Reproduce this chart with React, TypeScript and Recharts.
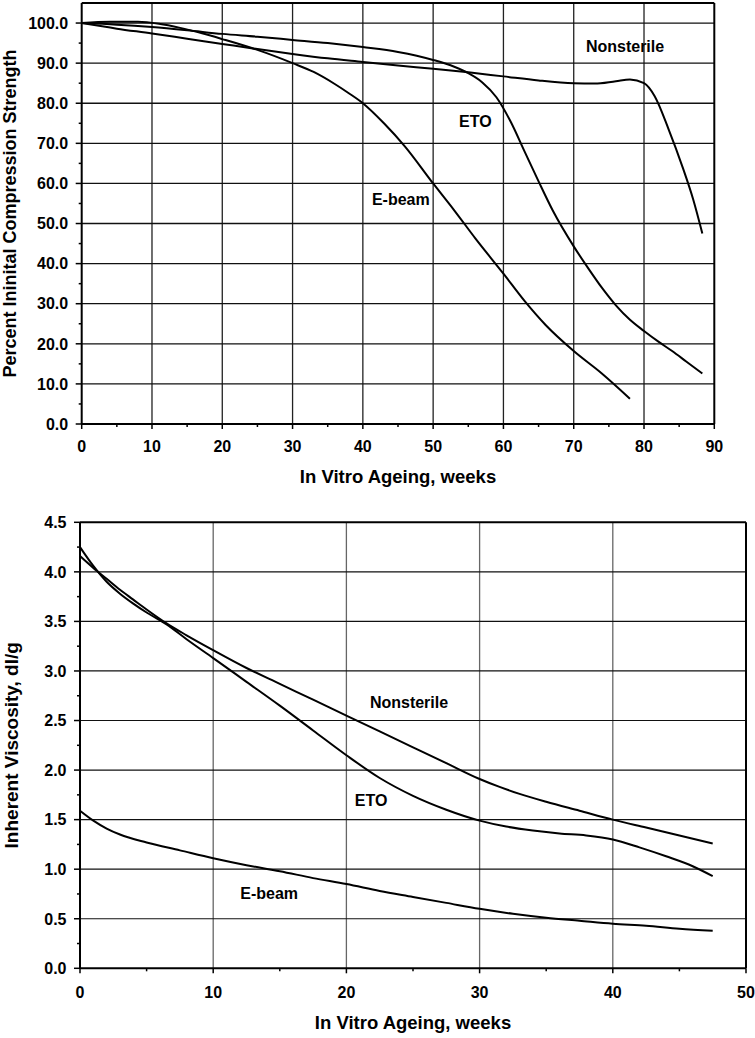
import { LineChart, Line, XAxis, YAxis, ReferenceLine, ReferenceDot, Label } from 'recharts';

const FONT = '"Liberation Sans", Arial, Helvetica, sans-serif';

// --- top panel: percent initial compression strength vs weeks ---
const strengthXTicks = [0, 5, 10, 15, 20, 25, 30, 35, 40, 45, 50, 55, 60, 65, 70, 75, 80, 85, 90];
const strengthYTicks = [0, 5, 10, 15, 20, 25, 30, 35, 40, 45, 50, 55, 60, 65, 70, 75, 80, 85, 90, 95, 100];
const strengthXGrid = [10, 20, 30, 40, 50, 60, 70, 80];
const strengthYGrid = [10, 20, 30, 40, 50, 60, 70, 80, 90, 100];

const nonsterileWeeks = [0, 5, 10, 15, 20, 25, 30, 35, 40, 45, 50, 55, 60, 65, 70, 73, 76, 78, 80, 81.5, 83.5, 85.5, 87, 88.3];
const nonsterileStrength = [100, 98.6, 97.4, 96.1, 94.8, 93.5, 92.3, 91.2, 90.3, 89.4, 88.6, 87.7, 86.7, 85.7, 85.0, 84.9, 85.5, 85.9, 85.0, 81.8, 73.5, 64.0, 56.0, 47.5];

const etoWeeks = [0, 5, 10, 15, 20, 25, 30, 35, 40, 45, 50, 53, 55, 57, 59, 61, 63, 65, 67, 70, 72, 74, 76, 78, 80, 82, 84, 86, 88.3];
const etoStrength = [100, 99.6, 99.0, 98.2, 97.3, 96.6, 95.8, 95.0, 94.0, 92.8, 90.8, 89.1, 87.5, 85.2, 81.5, 75.5, 68.0, 60.5, 53.3, 44.3, 39.0, 34.0, 29.6, 26.0, 23.2, 20.6, 18.2, 15.6, 12.6];

const ebeamWeeks = [0, 4, 8, 11, 14, 17, 20, 25, 30, 33, 36, 38, 40, 43, 46, 50, 53, 56, 60, 63, 66, 70, 74, 78];
const ebeamStrength = [100, 100.3, 100.3, 99.8, 98.8, 97.5, 96.0, 93.3, 90.0, 87.8, 84.8, 82.5, 80.0, 75.0, 69.2, 60.0, 53.3, 46.3, 37.5, 30.7, 24.7, 18.2, 12.6, 6.3];

// --- bottom panel: inherent viscosity vs weeks ---
const viscXTicks = [0, 5, 10, 15, 20, 25, 30, 35, 40, 45, 50];
const viscYTicks = [0, 0.25, 0.5, 0.75, 1, 1.25, 1.5, 1.75, 2, 2.25, 2.5, 2.75, 3, 3.25, 3.5, 3.75, 4, 4.25, 4.5];
const viscXGrid = [10, 20, 30, 40];
const viscYGrid = [0.5, 1, 1.5, 2, 2.5, 3, 3.5, 4];

const viscNonsterileWeeks = [0, 1, 2, 3, 4, 5, 6.5, 8, 10, 12.5, 15, 17.5, 20, 22.5, 25, 27.5, 30, 31.5, 33, 35, 37.5, 40, 42.5, 45, 47.5];
const viscNonsterile = [4.16, 4.04, 3.93, 3.82, 3.72, 3.62, 3.48, 3.36, 3.21, 3.03, 2.87, 2.71, 2.55, 2.39, 2.23, 2.07, 1.91, 1.83, 1.76, 1.68, 1.59, 1.50, 1.42, 1.34, 1.26];

const viscEtoWeeks = [0, 1, 2, 3, 4, 5, 6.5, 8, 10, 12.5, 15, 17.5, 20, 22.5, 25, 27.5, 30, 32, 34, 36, 38, 40, 42, 44, 46, 47.5];
const viscEto = [4.25, 4.06, 3.90, 3.78, 3.68, 3.59, 3.47, 3.32, 3.13, 2.89, 2.65, 2.40, 2.15, 1.92, 1.74, 1.60, 1.49, 1.43, 1.39, 1.36, 1.34, 1.30, 1.22, 1.13, 1.03, 0.93];

const viscEbeamWeeks = [0, 1, 2, 3, 5, 7.5, 10, 12.5, 15, 17.5, 20, 22.5, 25, 27.5, 30, 32.5, 35, 37.5, 40, 42.5, 45, 47.5];
const viscEbeam = [1.59, 1.49, 1.41, 1.35, 1.27, 1.19, 1.11, 1.04, 0.98, 0.91, 0.85, 0.78, 0.72, 0.66, 0.60, 0.55, 0.51, 0.48, 0.45, 0.43, 0.40, 0.38];

const toPoints = (w: number[], v: number[]) => w.map((x, i) => ({ w: x, v: v[i] }));

const isMultiple = (v: number, step: number) => Math.abs(v / step - Math.round(v / step)) < 1e-6;

function makeXTick(labelDy: number) {
  return (props: any) => {
    const { x, y, payload } = props;
    const major = isMultiple(payload.value, 10);
    return (
      <g>
        <line x1={x} y1={y} x2={x} y2={y + (major ? 5 : 3)} stroke="#000" strokeWidth={1.5} />
        {major && (
          <text x={x} y={y + labelDy} textAnchor="middle" fontFamily={FONT} fontWeight={700} fontSize={16} fill="#000">
            {payload.value}
          </text>
        )}
      </g>
    );
  };
}

function makeYTick(step: number) {
  return (props: any) => {
    const { x, y, payload } = props;
    const major = isMultiple(payload.value, step);
    return (
      <g>
        <line x1={x} y1={y} x2={x - (major ? 6 : 3)} y2={y} stroke="#000" strokeWidth={1.5} />
        {major && (
          <text x={x - 13.5} y={y} dy="0.36em" textAnchor="end" fontFamily={FONT} fontWeight={700} fontSize={16} fill="#000">
            {payload.value.toFixed(1)}
          </text>
        )}
      </g>
    );
  };
}

const xTitle = (baseline: number) => (props: any) => {
  const { x, y, width } = props.viewBox;
  return (
    <text x={x + width / 2} y={y + baseline} textAnchor="middle" fontFamily={FONT} fontWeight={700} fontSize={18.5} fill="#000">
      In Vitro Ageing, weeks
    </text>
  );
};

const yTitle = (text: string, cx: number, size: number) => (props: any) => {
  const { y, height } = props.viewBox;
  const cy = y + height / 2;
  return (
    <text
      x={cx}
      y={cy}
      dy="0.36em"
      transform={`rotate(-90 ${cx} ${cy})`}
      textAnchor="middle"
      fontFamily={FONT}
      fontWeight={700}
      fontSize={size}
      fill="#000"
    >
      {text}
    </text>
  );
};

const seriesLabel = (text: string) => ({
  value: text,
  position: 'center' as const,
  fill: '#000',
  fontSize: 16,
  fontWeight: 700,
  fontFamily: FONT,
});

function StrengthChart() {
  return (
    <LineChart width={755} height={500} margin={{ top: 3, right: 40.7, left: 0, bottom: 0 }}>
      <XAxis
        dataKey="w"
        type="number"
        domain={[0, 90]}
        ticks={strengthXTicks}
        interval={0}
        height={76}
        tickSize={0}
        tickMargin={0}
        tickLine={false}
        axisLine={{ stroke: '#000', strokeWidth: 2 }}
        tick={makeXTick(27.5)}
      >
        <Label content={xTitle(59.3)} />
      </XAxis>
      <YAxis
        dataKey="v"
        type="number"
        domain={[0, 105]}
        ticks={strengthYTicks}
        interval={0}
        width={81.7}
        tickSize={0}
        tickMargin={0}
        tickLine={false}
        axisLine={{ stroke: '#000', strokeWidth: 2 }}
        tick={makeYTick(10)}
      >
        <Label content={yTitle('Percent Ininital Compression Strength', 10, 18)} />
      </YAxis>
      {strengthXGrid.map((g) => (
        <ReferenceLine key={`sx${g}`} x={g} stroke="#222" strokeWidth={1.3} />
      ))}
      {strengthYGrid.map((g) => (
        <ReferenceLine key={`sy${g}`} y={g} stroke="#111" strokeWidth={1.3} />
      ))}
      <ReferenceLine x={90} stroke="#000" strokeWidth={2} />
      <ReferenceLine y={105} stroke="#000" strokeWidth={2} />
      <Line data={toPoints(nonsterileWeeks, nonsterileStrength)} dataKey="v" type="monotone" stroke="#000" strokeWidth={2} dot={false} isAnimationActive={false} />
      <Line data={toPoints(etoWeeks, etoStrength)} dataKey="v" type="monotone" stroke="#000" strokeWidth={2} dot={false} isAnimationActive={false} />
      <Line data={toPoints(ebeamWeeks, ebeamStrength)} dataKey="v" type="monotone" stroke="#000" strokeWidth={2} dot={false} isAnimationActive={false} />
      <ReferenceDot x={77.3} y={94.3} r={0} label={seriesLabel('Nonsterile')} />
      <ReferenceDot x={56.0} y={75.4} r={0} label={seriesLabel('ETO')} />
      <ReferenceDot x={45.4} y={56.1} r={0} label={seriesLabel('E-beam')} />
    </LineChart>
  );
}

function ViscosityChart() {
  return (
    <LineChart width={755} height={538} margin={{ top: 22.3, right: 9, left: 0, bottom: 0 }}>
      <XAxis
        dataKey="w"
        type="number"
        domain={[0, 50]}
        ticks={viscXTicks}
        interval={0}
        height={69.7}
        tickSize={0}
        tickMargin={0}
        tickLine={false}
        axisLine={{ stroke: '#000', strokeWidth: 2 }}
        tick={makeXTick(29.2)}
      >
        <Label content={xTitle(60.7)} />
      </XAxis>
      <YAxis
        dataKey="v"
        type="number"
        domain={[0, 4.5]}
        ticks={viscYTicks}
        interval={0}
        width={80}
        tickSize={0}
        tickMargin={0}
        tickLine={false}
        axisLine={{ stroke: '#000', strokeWidth: 2 }}
        tick={makeYTick(0.5)}
      >
        <Label content={yTitle('Inherent Viscosity, dl/g', 11, 19)} />
      </YAxis>
      {viscXGrid.map((g) => (
        <ReferenceLine key={`vx${g}`} x={g} stroke="#666" strokeWidth={1.3} />
      ))}
      {viscYGrid.map((g) => (
        <ReferenceLine key={`vy${g}`} y={g} stroke="#111" strokeWidth={1.2} />
      ))}
      <ReferenceLine x={50} stroke="#000" strokeWidth={2} />
      <ReferenceLine y={4.5} stroke="#000" strokeWidth={2} />
      <Line data={toPoints(viscNonsterileWeeks, viscNonsterile)} dataKey="v" type="monotone" stroke="#000" strokeWidth={2} dot={false} isAnimationActive={false} />
      <Line data={toPoints(viscEtoWeeks, viscEto)} dataKey="v" type="monotone" stroke="#000" strokeWidth={2} dot={false} isAnimationActive={false} />
      <Line data={toPoints(viscEbeamWeeks, viscEbeam)} dataKey="v" type="monotone" stroke="#000" strokeWidth={2} dot={false} isAnimationActive={false} />
      <ReferenceDot x={24.7} y={2.68} r={0} label={seriesLabel('Nonsterile')} />
      <ReferenceDot x={21.85} y={1.69} r={0} label={seriesLabel('ETO')} />
      <ReferenceDot x={14.2} y={0.755} r={0} label={seriesLabel('E-beam')} />
    </LineChart>
  );
}

export default function App() {
  return (
    <div style={{ position: 'absolute', left: 0, top: 0, width: 755, height: 1038, background: '#fff' }}>
      <div style={{ position: 'absolute', left: 0, top: 0 }}>
        <StrengthChart />
      </div>
      <div style={{ position: 'absolute', left: 0, top: 500 }}>
        <ViscosityChart />
      </div>
    </div>
  );
}
